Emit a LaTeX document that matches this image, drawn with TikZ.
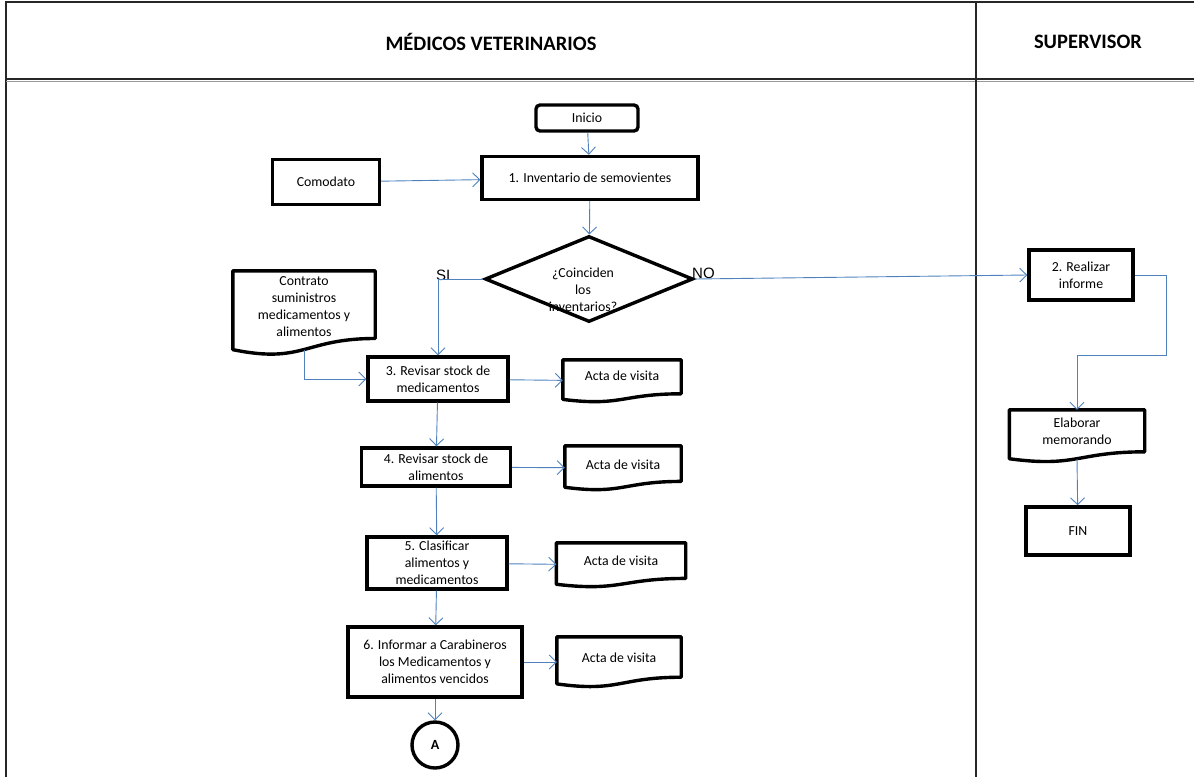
\documentclass[tikz,border=0pt]{standalone}
\usepackage{fontspec}
\setmainfont{Carlito}
\newfontfamily\arialfont{Liberation Sans}
\usetikzlibrary{shapes.geometric,arrows.meta,calc}
\definecolor{flowblue}{RGB}{79,129,189}
\tikzset{
  txt/.style={font=\fontsize{13.8}{17}\selectfont, align=center},
  box/.style={txt, draw, line width=3.4pt, inner sep=0pt},
  doc/.style={txt, inner sep=0pt, anchor=center},
  flow/.style={draw=flowblue, line width=0.9pt, -{Straight Barb[length=7pt,width=14pt,line width=0.9pt]}},
  lane/.style={line width=1.4pt, black!85},
  head/.style={font=\fontsize{20.5}{24}\selectfont\bfseries},
}
% wavy-bottom document outline around a node
\newcommand{\docshape}[1]{%
  \draw[line width=3.4pt, line join=round]
    (#1.north west) -- (#1.north east) -- ($(#1.north east)!0.802!(#1.south east)$)
    .. controls ($(#1.north)!0.802!(#1.south)$) and ($(#1.north)!1.107!(#1.south)$)
    .. ($(#1.north west)!0.934!(#1.south west)$) -- cycle;}
\begin{document}
\begin{tikzpicture}[x=1pt,y=-1pt]
\useasboundingbox (0,0) rectangle (1194,777);
% lanes
\draw[lane] (6,777) -- (6,2) -- (1194,2);
\draw[lane] (6,79) -- (1194,79);
\draw[black!40, line width=0.6pt] (6,81.5) -- (1194,81.5);
\draw[lane] (976,2) -- (976,777);
\node[head] (hvet) at (491,42) {MÉDICOS VETERINARIOS};
\node[head] (hsup) at (1088,42) {SUPERVISOR};

% main column
\node[box, rounded corners=4pt, minimum width=102, minimum height=26] (inicio) at (587,118) {Inicio};
\node[box, minimum width=216, minimum height=43] (n1) at (590,178) {1. Inventario de semovientes};
\node[box, minimum width=107, minimum height=45] (comodato) at (326,182) {Comodato};
\node[draw, diamond, line width=3.4pt, minimum width=208, minimum height=86, inner sep=0pt] (dec) at (589,279) {};
\node[txt] (dectxt) at (583,290) {¿Coinciden\\los\\inventarios?};
\node[font=\arialfont\fontsize{15}{17}\selectfont, anchor=south west, inner sep=0pt] (si) at (436,281) {SI};
\node[font=\arialfont\fontsize{15}{17}\selectfont, anchor=south west, inner sep=0pt] (no) at (692,279) {NO};

\node[doc, minimum width=142, minimum height=84] (contrato) at (304,313) {};
\node[txt] (contratotxt) at (304,307) {Contrato\\suministros\\medicamentos y\\alimentos};
\node[box, minimum width=140, minimum height=44] (n3) at (438,379) {3. Revisar stock de\\medicamentos};
\node[box, minimum width=149, minimum height=38] (n4) at (436,467) {4. Revisar stock de\\alimentos};
\node[box, minimum width=140, minimum height=52] (n5) at (437,563) {5. Clasificar\\alimentos y\\medicamentos};
\node[box, minimum width=174, minimum height=70] (n6) at (435,662) {6. Informar a Carabineros\\los Medicamentos y\\alimentos vencidos};
\node[draw, circle, line width=3.4pt, minimum size=46, inner sep=0pt, font=\fontsize{14}{16}\selectfont\bfseries] (conA) at (435,745) {A};

\node[doc, minimum width=118, minimum height=42] (acta1) at (622,381) {};
\node[doc, minimum width=116, minimum height=44] (acta2) at (623,468) {};
\node[doc, minimum width=129, minimum height=44] (acta3) at (621,565) {};
\node[doc, minimum width=124, minimum height=50] (acta4) at (619,662) {};
\foreach \n/\dy in {acta1/5,acta2/3,acta3/4,acta4/4}
  \node[txt] (\n txt) at ([yshift=\dy]\n.center) {Acta de visita};

% supervisor column
\node[box, minimum width=104, minimum height=50] (n2) at (1081,275) {2. Realizar\\informe};
\node[doc, minimum width=135, minimum height=52] (memo) at (1077,436) {};
\node[txt] (memotxt) at (1077,431) {Elaborar\\memorando};
\node[box, minimum width=104, minimum height=48] (fin) at (1078,531) {FIN};

\foreach \n in {contrato,acta1,acta2,acta3,acta4,memo} {\docshape{\n}}

% connectors
\draw[flow] (inicio) -- (n1);
\draw[flow] (comodato) -- (n1);
\draw[flow] (n1) -- (dec);
\draw[flow] (dec.west) -| (n3.north);
\draw[flow] ([yshift=5]contrato.south) |- (n3.west);
\draw[flow] (dec.east) -- (n2.west);
\draw[flow] (n3) -- (n4);
\draw[flow] (n4) -- (n5);
\draw[flow] (n5) -- (n6);
\draw[flow] (n6) -- (conA);
\draw[flow] (n3) -- (acta1);
\draw[flow] (n4) -- (acta2);
\draw[flow] (n5) -- (acta3);
\draw[flow] (n6) -- (acta4);
\draw[flow] (n2.east) -| ++(32,80) -| (memo.north);
\draw[flow] ([yshift=3]memo.south) -- (fin);
\end{tikzpicture}
\end{document}
